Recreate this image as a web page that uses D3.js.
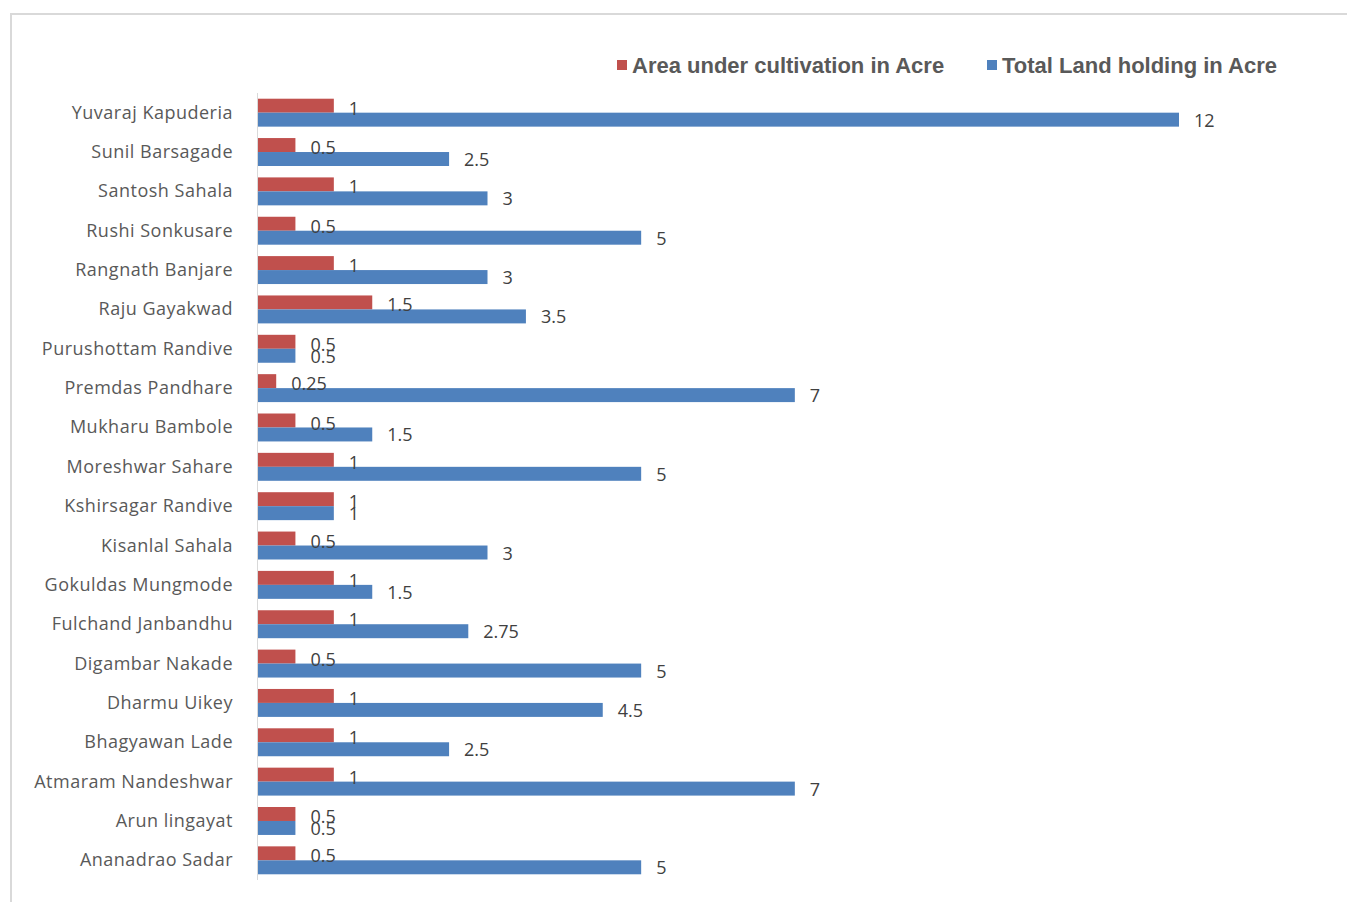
<!DOCTYPE html>
<html lang="en">
<head>
  <meta charset="UTF-8">
  <title>Land holding vs cultivation</title>
  <style>
    body { margin: 0; background: #fff; }
    .lbl { font-family: 'Open Sans', sans-serif; font-size: 18px; letter-spacing: 0.5px; fill: #595959; }
    .val { font-family: 'Open Sans', sans-serif; font-size: 18px; fill: #404040; }
    .leg { font-family: 'Liberation Sans', Arial, sans-serif; font-size: 22px; font-weight: bold; fill: #595959; }
  </style>
  <script src="https://d3js.org/d3.v7.min.js"></script>
</head>
<body>
<script>
  // farmer names, top to bottom as in the chart
  const farmers = [
    "Yuvaraj Kapuderia", "Sunil Barsagade", "Santosh Sahala", "Rushi Sonkusare",
    "Rangnath Banjare", "Raju Gayakwad", "Purushottam Randive", "Premdas Pandhare",
    "Mukharu Bambole", "Moreshwar Sahare", "Kshirsagar Randive", "Kisanlal Sahala",
    "Gokuldas Mungmode", "Fulchand Janbandhu", "Digambar Nakade", "Dharmu Uikey",
    "Bhagyawan Lade", "Atmaram Nandeshwar", "Arun lingayat", "Ananadrao Sadar"
  ];
  const cultivated = [1, 0.5, 1, 0.5, 1, 1.5, 0.5, 0.25, 0.5, 1, 1, 0.5, 1, 1, 0.5, 1, 1, 1, 0.5, 0.5];
  const totalLand  = [12, 2.5, 3, 5, 3, 3.5, 0.5, 7, 1.5, 5, 1, 3, 1.5, 2.75, 5, 4.5, 2.5, 7, 0.5, 5];
  const seriesNames = ["Area under cultivation in Acre", "Total Land holding in Acre"];
  const colors = ["#c0504d", "#4f81bd"];

  const W = 1347, H = 902;
  const svg = d3.select("body").append("svg").attr("width", W).attr("height", H);

  // chart frame
  svg.append("rect")
    .attr("x", 11).attr("y", 14).attr("width", W).attr("height", H)
    .attr("fill", "#fff").attr("stroke", "#d9d9d9").attr("stroke-width", 2);

  const x = d3.scaleLinear().domain([0, 12]).range([257, 1179]);
  const y = d3.scaleBand().domain(farmers).range([93, 880]).paddingInner(0.29).paddingOuter(0.145);
  const sub = d3.scaleBand().domain([0, 1]).range([0, y.bandwidth()]);

  const rows = farmers.map((name, i) => ({ name, vals: [cultivated[i], totalLand[i]] }));

  const g = svg.append("g");
  const row = g.selectAll("g.row").data(rows).enter().append("g")
    .attr("class", "row")
    .attr("transform", d => `translate(0,${y(d.name)})`);

  row.selectAll("rect").data(d => d.vals).enter().append("rect")
    .attr("x", x(0))
    .attr("y", (v, j) => sub(j))
    .attr("width", v => x(v) - x(0))
    .attr("height", sub.bandwidth())
    .attr("fill", (v, j) => colors[j]);

  // value labels
  row.selectAll("text.val").data(d => d.vals).enter().append("text")
    .attr("class", "val")
    .attr("x", v => x(v) + 15)
    .attr("y", (v, j) => sub(j) + sub.bandwidth() / 2 + (j === 0 ? 9 : 7))
    .text(v => v);

  // category labels
  row.append("text")
    .attr("class", "lbl")
    .attr("x", 233)
    .attr("y", y.bandwidth() / 2 + 6)
    .attr("text-anchor", "end")
    .text(d => d.name);

  // axis line
  svg.append("line")
    .attr("x1", 257.5).attr("x2", 257.5).attr("y1", 93).attr("y2", 880)
    .attr("stroke", "#d9d9d9").attr("stroke-width", 1);

  // legend
  const legX = [617, 987];
  seriesNames.forEach((s, i) => {
    svg.append("rect").attr("x", legX[i]).attr("y", 60).attr("width", 10).attr("height", 10).attr("fill", colors[i]);
    svg.append("text").attr("class", "leg").attr("x", legX[i] + 15).attr("y", 73).text(s);
  });
</script>
</body>
</html>
